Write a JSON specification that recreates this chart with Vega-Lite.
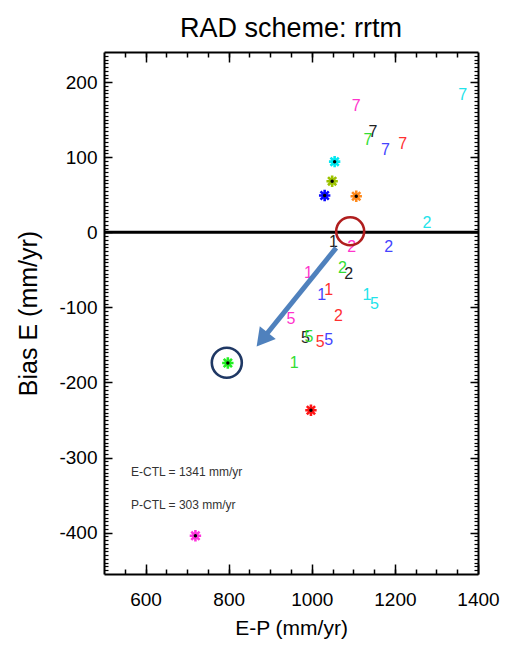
{
  "$schema": "https://vega.github.io/schema/vega-lite/v6.json",
  "autosize": "none",
  "width": 374,
  "height": 522,
  "padding": {"left": 104, "top": 52, "right": 31, "bottom": 74},
  "background": "white",
  "config": {"view": {"stroke": null}, "font": "Liberation Sans"},
  "title": {"text": "RAD scheme: rrtm", "fontSize": 27, "font": "Liberation Sans", "fontWeight": "normal", "color": "black", "anchor": "middle", "baseline": "alphabetic", "offset": -13},
  "datasets": {
    "digits": [
      {"ep": 1363, "bias": 183, "num": "7", "grp": "cyan"},
      {"ep": 1107, "bias": 168, "num": "7", "grp": "magenta"},
      {"ep": 1147, "bias": 134, "num": "7", "grp": "black"},
      {"ep": 1135, "bias": 123, "num": "7", "grp": "green"},
      {"ep": 1177, "bias": 110, "num": "7", "grp": "blue"},
      {"ep": 1219, "bias": 118, "num": "7", "grp": "red"},
      {"ep": 1277, "bias": 12, "num": "2", "grp": "cyan"},
      {"ep": 1052, "bias": -13, "num": "1", "grp": "black"},
      {"ep": 1096, "bias": -19, "num": "2", "grp": "magenta"},
      {"ep": 1185, "bias": -19, "num": "2", "grp": "blue"},
      {"ep": 992, "bias": -54, "num": "1", "grp": "magenta"},
      {"ep": 1074, "bias": -47, "num": "2", "grp": "green"},
      {"ep": 1089, "bias": -56, "num": "2", "grp": "black"},
      {"ep": 1024, "bias": -83, "num": "1", "grp": "blue"},
      {"ep": 1041, "bias": -77, "num": "1", "grp": "red"},
      {"ep": 1133, "bias": -83, "num": "1", "grp": "cyan"},
      {"ep": 1151, "bias": -96, "num": "5", "grp": "cyan"},
      {"ep": 950, "bias": -115, "num": "5", "grp": "magenta"},
      {"ep": 1064, "bias": -112, "num": "2", "grp": "red"},
      {"ep": 985, "bias": -141, "num": "5", "grp": "black"},
      {"ep": 993, "bias": -140, "num": "5", "grp": "green"},
      {"ep": 1020, "bias": -146, "num": "5", "grp": "red"},
      {"ep": 1041, "bias": -143, "num": "5", "grp": "blue"},
      {"ep": 958, "bias": -174, "num": "1", "grp": "green"}
    ],
    "stars": [
      {"ep": 1055, "bias": 94, "grp": "cyan"},
      {"ep": 1049, "bias": 68, "grp": "olive"},
      {"ep": 1031, "bias": 49, "grp": "blue"},
      {"ep": 1107, "bias": 48, "grp": "orange"},
      {"ep": 798, "bias": -174, "grp": "green"},
      {"ep": 998, "bias": -237, "grp": "red"},
      {"ep": 720, "bias": -404, "grp": "magenta"}
    ],
    "rings": [
      {"ep": 1092.4, "bias": 1.3, "ring": "start"},
      {"ep": 795.5, "bias": -173.8, "ring": "target"}
    ],
    "arrow": [
      {"ep": 1058.7, "bias": -20.8, "ep2": 880.7, "bias2": -142.8}
    ],
    "notes": [
      {"ep": 565, "bias": -319.5, "note": "E-CTL = 1341 mm/yr"},
      {"ep": 565, "bias": -363, "note": "P-CTL = 303 mm/yr"}
    ]
  },
  "layer": [
    {
      "data": {"values": [{}]},
      "mark": {"type": "rule", "color": "black", "strokeWidth": 3},
      "encoding": {
        "y": {"datum": 0, "type": "quantitative", "scale": {"domain": [-455, 240], "nice": false, "zero": false}, "axis": null}
      }
    },
    {
      "data": {"name": "notes"},
      "mark": {"type": "text", "align": "left", "baseline": "middle", "fontSize": 12, "font": "Liberation Sans", "color": "#333333"},
      "encoding": {
        "x": {"field": "ep", "type": "quantitative", "scale": {"domain": [500, 1400], "nice": false, "zero": false}, "axis": null},
        "y": {"field": "bias", "type": "quantitative", "scale": {"domain": [-455, 240], "nice": false, "zero": false}, "axis": null},
        "text": {"field": "note"}
      }
    },
    {
      "data": {"name": "digits"},
      "mark": {"type": "text", "align": "center", "baseline": "middle", "fontSize": 16, "font": "Liberation Sans"},
      "encoding": {
        "x": {"field": "ep", "type": "quantitative", "title": "E-P (mm/yr)", "scale": {"domain": [500, 1400], "nice": false, "zero": false},
          "axis": {"orient": "bottom", "values": [600, 800, 1000, 1200, 1400], "labelExpr": "'' + datum.value", "tickSize": -10, "tickWidth": 1.5, "tickColor": "black", "domainColor": "black", "domainWidth": 2, "labelFont": "Liberation Sans", "labelFontSize": 19, "labelColor": "black", "labelPadding": 26, "labelFlush": false, "grid": false, "titleFont": "Liberation Sans", "titleFontSize": 21, "titleFontWeight": "normal", "titleColor": "black", "titlePadding": 8}},
        "y": {"field": "bias", "type": "quantitative", "title": "Bias E (mm/yr)", "scale": {"domain": [-455, 240], "nice": false, "zero": false},
          "axis": {"orient": "left", "values": [-400, -300, -200, -100, 0, 100, 200], "labelExpr": "'' + datum.value", "tickSize": -8, "tickWidth": 1.5, "tickColor": "black", "domainColor": "black", "domainWidth": 2, "labelFont": "Liberation Sans", "labelFontSize": 19, "labelColor": "black", "labelPadding": 15, "labelFlush": false, "grid": false, "titleFont": "Liberation Sans", "titleFontSize": 25, "titleFontWeight": "normal", "titleColor": "black", "titlePadding": 17}},
        "text": {"field": "num"},
        "color": {"field": "grp", "type": "nominal", "legend": null,
          "scale": {"domain": ["black", "red", "green", "blue", "cyan", "magenta"], "range": ["#222222", "#ff3030", "#33dd33", "#4444ff", "#22e3ea", "#ff33cc"]}}
      }
    },
    {
      "data": {"name": "arrow"},
      "mark": {"type": "rule", "color": "#4f81bd", "strokeWidth": 5},
      "encoding": {
        "x": {"field": "ep", "type": "quantitative", "scale": {"domain": [500, 1400], "nice": false, "zero": false}, "axis": null},
        "y": {"field": "bias", "type": "quantitative", "scale": {"domain": [-455, 240], "nice": false, "zero": false}, "axis": null},
        "x2": {"field": "ep2"},
        "y2": {"field": "bias2"}
      }
    },
    {
      "data": {"name": "arrow"},
      "mark": {"type": "point", "shape": "triangle-up", "filled": true, "color": "#4f81bd", "opacity": 1, "size": 420, "angle": 218.8},
      "encoding": {
        "x": {"field": "ep2", "type": "quantitative", "scale": {"domain": [500, 1400], "nice": false, "zero": false}, "axis": null},
        "y": {"field": "bias2", "type": "quantitative", "scale": {"domain": [-455, 240], "nice": false, "zero": false}, "axis": null}
      }
    },
    {
      "data": {"name": "stars"},
      "mark": {"type": "point", "shape": "M-1,0L1,0M0,-1L0,1M-0.72,-0.72L0.72,0.72M-0.72,0.72L0.72,-0.72", "filled": false, "strokeWidth": 2.6, "size": 130, "opacity": 1},
      "encoding": {
        "x": {"field": "ep", "type": "quantitative", "scale": {"domain": [500, 1400], "nice": false, "zero": false},
          "axis": {"orient": "bottom", "values": [550, 600, 650, 700, 750, 800, 850, 900, 950, 1000, 1050, 1100, 1150, 1200, 1250, 1300, 1350], "tickSize": -5, "tickWidth": 1.5, "tickColor": "black", "domain": false, "labels": false, "title": null, "grid": false}},
        "y": {"field": "bias", "type": "quantitative", "scale": {"domain": [-455, 240], "nice": false, "zero": false},
          "axis": {"orient": "left", "values": [-450,-445,-440,-435,-430,-425,-420,-415,-410,-405,-400,-395,-390,-385,-380,-375,-370,-365,-360,-355,-350,-345,-340,-335,-330,-325,-320,-315,-310,-305,-300,-295,-290,-285,-280,-275,-270,-265,-260,-255,-250,-245,-240,-235,-230,-225,-220,-215,-210,-205,-200,-195,-190,-185,-180,-175,-170,-165,-160,-155,-150,-145,-140,-135,-130,-125,-120,-115,-110,-105,-100,-95,-90,-85,-80,-75,-70,-65,-60,-55,-50,-45,-40,-35,-30,-25,-20,-15,-10,-5,0,5,10,15,20,25,30,35,40,45,50,55,60,65,70,75,80,85,90,95,100,105,110,115,120,125,130,135,140,145,150,155,160,165,170,175,180,185,190,195,200,205,210,215,220,225,230,235], "tickSize": -4, "tickWidth": 1.2, "tickColor": "black", "domain": false, "labels": false, "title": null, "grid": false}},
        "stroke": {"field": "grp", "type": "nominal", "legend": null,
          "scale": {"domain": ["cyan", "olive", "blue", "orange", "green", "red", "magenta"], "range": ["#00e8f0", "#9cc200", "#0a0aff", "#ff8a1c", "#22ee22", "#ff1515", "#ff33dd"]}}
      }
    },
    {
      "data": {"name": "stars"},
      "mark": {"type": "point", "shape": "circle", "filled": true, "color": "black", "size": 12, "opacity": 1},
      "encoding": {
        "x": {"field": "ep", "type": "quantitative", "scale": {"domain": [500, 1400], "nice": false, "zero": false},
          "axis": {"orient": "top", "values": [600, 800, 1000, 1200], "tickSize": -10, "tickWidth": 1.5, "tickColor": "black", "domainColor": "black", "domainWidth": 2, "labels": false, "title": null, "grid": false}},
        "y": {"field": "bias", "type": "quantitative", "scale": {"domain": [-455, 240], "nice": false, "zero": false},
          "axis": {"orient": "right", "values": [-400, -300, -200, -100, 0, 100, 200], "tickSize": -8, "tickWidth": 1.5, "tickColor": "black", "domainColor": "black", "domainWidth": 2, "labels": false, "title": null, "grid": false}}
      }
    },
    {
      "data": {"name": "rings"},
      "mark": {"type": "point", "shape": "circle", "filled": false, "strokeWidth": 2.6, "opacity": 1},
      "encoding": {
        "x": {"field": "ep", "type": "quantitative", "scale": {"domain": [500, 1400], "nice": false, "zero": false},
          "axis": {"orient": "top", "values": [550, 600, 650, 700, 750, 800, 850, 900, 950, 1000, 1050, 1100, 1150, 1200, 1250, 1300, 1350], "tickSize": -5, "tickWidth": 1.5, "tickColor": "black", "domain": false, "labels": false, "title": null, "grid": false}},
        "y": {"field": "bias", "type": "quantitative", "scale": {"domain": [-455, 240], "nice": false, "zero": false},
          "axis": {"orient": "right", "values": [-450,-445,-440,-435,-430,-425,-420,-415,-410,-405,-400,-395,-390,-385,-380,-375,-370,-365,-360,-355,-350,-345,-340,-335,-330,-325,-320,-315,-310,-305,-300,-295,-290,-285,-280,-275,-270,-265,-260,-255,-250,-245,-240,-235,-230,-225,-220,-215,-210,-205,-200,-195,-190,-185,-180,-175,-170,-165,-160,-155,-150,-145,-140,-135,-130,-125,-120,-115,-110,-105,-100,-95,-90,-85,-80,-75,-70,-65,-60,-55,-50,-45,-40,-35,-30,-25,-20,-15,-10,-5,0,5,10,15,20,25,30,35,40,45,50,55,60,65,70,75,80,85,90,95,100,105,110,115,120,125,130,135,140,145,150,155,160,165,170,175,180,185,190,195,200,205,210,215,220,225,230,235], "tickSize": -4, "tickWidth": 1.2, "tickColor": "black", "domain": false, "labels": false, "title": null, "grid": false}},
        "size": {"field": "ring", "type": "nominal", "legend": null, "scale": {"domain": ["start", "target"], "range": [784, 900]}},
        "stroke": {"field": "ring", "type": "nominal", "legend": null, "scale": {"domain": ["start", "target"], "range": ["#b01e1e", "#1f3864"]}}
      }
    }
  ],
  "resolve": {"axis": {"x": "independent", "y": "independent"}, "scale": {"stroke": "independent"}}
}
